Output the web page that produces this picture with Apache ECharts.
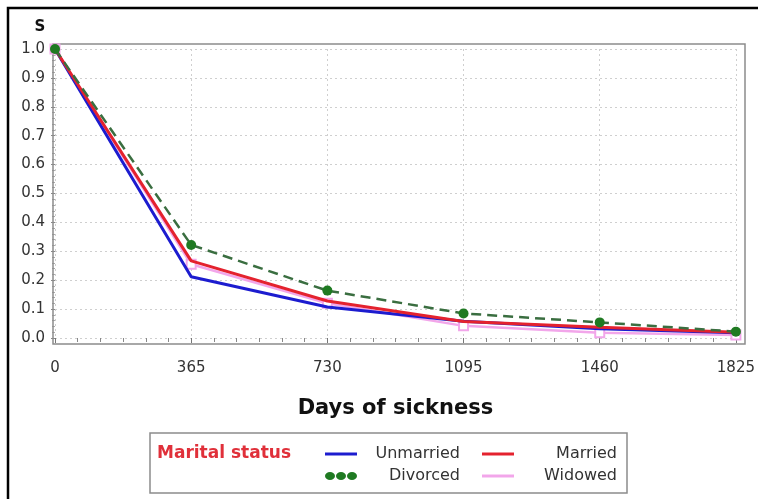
<!DOCTYPE html>
<html>
<head>
<meta charset="utf-8">
<script src="https://cdn.jsdelivr.net/npm/echarts@6/dist/echarts.min.js"></script>
<style>
html,body{margin:0;padding:0;background:#fff;}
#c{width:758px;height:499px;}
</style>
</head>
<body>
<div id="c"></div>
<script>
// ---- data ----
var days = [0, 365, 730, 1095, 1460, 1825];
var xTicks = [0, 365, 730, 1095, 1460, 1825];
var yTicks = [0.0, 0.1, 0.2, 0.3, 0.4, 0.5, 0.6, 0.7, 0.8, 0.9, 1.0];
var seriesNames = ['Unmarried', 'Married', 'Divorced', 'Widowed'];
var unmarried = [1.0, 0.212, 0.107, 0.058, 0.032, 0.018];
var married   = [1.0, 0.267, 0.128, 0.057, 0.037, 0.02];
var divorced  = [1.0, 0.322, 0.164, 0.085, 0.054, 0.022];
var widowed   = [1.0, 0.255, 0.12, 0.042, 0.018, 0.01];
var xTitle = 'Days of sickness';
var yTitle = 'S';
var legendTitle = 'Marital status';

function pairs(vals){ return days.map(function(d,i){ return [d, vals[i]]; }); }

var FONT = 'DejaVu Sans';
var lineIcon = 'path://M0,0L32,0L32,3L0,3Z';
var dotsIcon = 'path://M0,4a5,4 0 1,0 10,0a5,4 0 1,0 -10,0ZM11,4a5,4 0 1,0 10,0a5,4 0 1,0 -10,0ZM22,4a5,4 0 1,0 10,0a5,4 0 1,0 -10,0Z';

var colors = {
  Unmarried: '#1c1ccf',
  Married: '#e4222e',
  Divorced: '#1f7a22',
  Widowed: '#f2a6ea'
};

var legendText = {
  fontFamily: FONT, fontSize: 16, color: '#333',
  rich: { t: { width: 98, align: 'right', fontFamily: FONT, fontSize: 16, color: '#333' } }
};

var chart = echarts.init(document.getElementById('c'), null, {renderer: 'canvas'});
chart.setOption({
  backgroundColor: '#fff',
  animation: false,
  grid: { left: 55, right: 15, top: 49, bottom: 161, containLabel: false },
  xAxis: {
    type: 'value', min: 0, max: 1825, interval: 365, offset: 6,
    name: xTitle, nameLocation: 'middle', nameGap: 54,
    nameTextStyle: { fontFamily: FONT, fontWeight: 'bold', fontSize: 21, color: '#111' },
    axisLine: { show: false },
    axisTick: { show: true, length: 5, lineStyle: { color: '#777', width: 1 } },
    minorTick: { show: true, splitNumber: 6, length: 4, lineStyle: { color: '#888', width: 1 } },
    axisLabel: { margin: 17, fontFamily: FONT, fontSize: 15, color: '#333', showMaxLabel: true, showMinLabel: true,
      formatter: function(v){ return xTicks.indexOf(v) >= 0 ? String(v) : ''; } },
    splitLine: { show: true, lineStyle: { color: '#cfcfcf', type: [2, 3], width: 1 } }
  },
  yAxis: {
    type: 'value', min: 0, max: 1, interval: 0.1, offset: 2,
    name: yTitle, nameLocation: 'end', nameGap: 14,
    nameTextStyle: { fontFamily: FONT, fontWeight: 'bold', fontSize: 15, color: '#111', align: 'center', padding: [0, 30, 0, 0] },
    axisLine: { show: false },
    axisTick: { show: true, length: 4, lineStyle: { color: '#888' } },
    minorTick: { show: true, splitNumber: 5, length: 3, lineStyle: { color: '#aaa' } },
    axisLabel: { margin: 8, fontFamily: FONT, fontSize: 15, color: '#333',
      formatter: function(v){ return v.toFixed(1); } },
    splitLine: { show: true, lineStyle: { color: '#cfcfcf', type: [2, 3], width: 1 } }
  },
  legend: [
    {
      data: [
        { name: 'Unmarried', icon: lineIcon, itemStyle: { color: colors.Unmarried } },
        { name: 'Married', icon: lineIcon, itemStyle: { color: colors.Married } }
      ],
      left: 325, top: 446, padding: 0, orient: 'horizontal', itemGap: 22, itemWidth: 32, itemHeight: 8,
      itemStyle: { borderWidth: 0 }, lineStyle: { width: 0 },
      textStyle: legendText, formatter: function(n){ return '{t|' + n + '}'; },
      selectedMode: false
    },
    {
      data: [
        { name: 'Divorced', icon: dotsIcon, itemStyle: { color: colors.Divorced } },
        { name: 'Widowed', icon: lineIcon, itemStyle: { color: colors.Widowed } }
      ],
      left: 325, top: 468, padding: 0, orient: 'horizontal', itemGap: 22, itemWidth: 32, itemHeight: 8,
      itemStyle: { borderWidth: 0 }, lineStyle: { width: 0 },
      textStyle: legendText, formatter: function(n){ return '{t|' + n + '}'; },
      selectedMode: false
    }
  ],
  graphic: [
    { type: 'rect', silent: true, z: -1, shape: { x: 8, y: 8, width: 800, height: 600 },
      style: { fill: 'none', stroke: '#000', lineWidth: 2.5 } },
    { type: 'rect', silent: true, z: 1, shape: { x: 53, y: 44, width: 692, height: 300 },
      style: { fill: 'none', stroke: '#8c8c8c', lineWidth: 1.5 } },
    { type: 'rect', silent: true, z: 1, shape: { x: 150, y: 433, width: 477, height: 60 },
      style: { fill: 'none', stroke: '#8c8c8c', lineWidth: 1.5 } },
    { type: 'text', silent: true, z: 2, left: 157, top: 445,
      style: { text: legendTitle, fill: '#e0303a', font: 'bold 17px "DejaVu Sans"' } }
  ],
  series: [
    { name: 'Widowed', type: 'line', data: pairs(widowed), clip: false, z: 2,
      symbol: 'emptyRect', symbolSize: 9, showSymbol: true,
      itemStyle: { color: colors.Widowed, borderWidth: 1.5 },
      lineStyle: { color: colors.Widowed, width: 2.5 } },
    { name: 'Unmarried', type: 'line', data: pairs(unmarried), clip: false, z: 3,
      symbol: 'none', itemStyle: { color: colors.Unmarried },
      lineStyle: { color: colors.Unmarried, width: 3 } },
    { name: 'Married', type: 'line', data: pairs(married), clip: false, z: 4,
      symbol: 'none', itemStyle: { color: colors.Married },
      lineStyle: { color: colors.Married, width: 3 } },
    { name: 'Divorced', type: 'line', data: pairs(divorced), clip: false, z: 5,
      symbol: 'circle', symbolSize: 10, showSymbol: true,
      itemStyle: { color: colors.Divorced },
      lineStyle: { color: '#3a6e40', width: 2.5, type: [10, 6] } }
  ]
});
</script>
</body>
</html>
